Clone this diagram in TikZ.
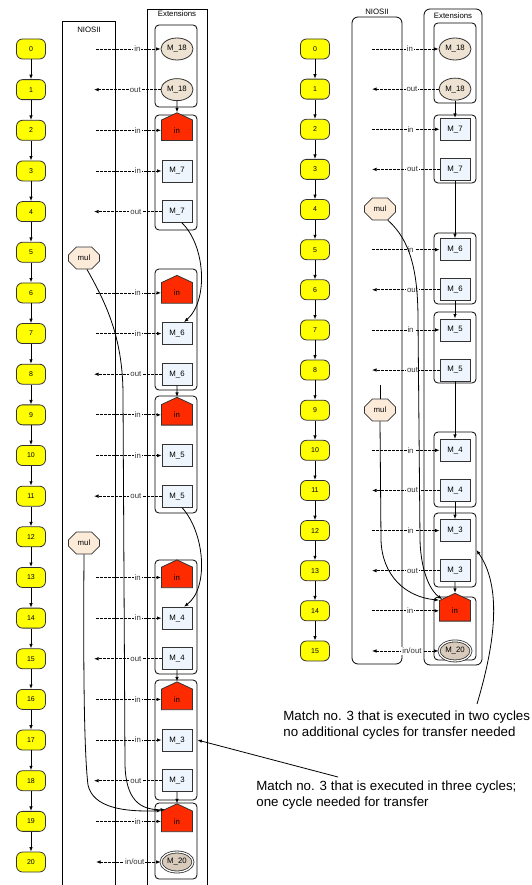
\documentclass[tikz,border=0pt]{standalone}
\usepackage{fontspec}
\setmainfont{Liberation Sans}
\usetikzlibrary{arrows.meta,shapes.geometric,shapes.symbols,shapes.misc,fit}

\definecolor{lineGrey}{HTML}{333333}
\definecolor{cycleFill}{HTML}{FFFF00}
\definecolor{houseFill}{HTML}{FF2B00}
\definecolor{memFill}{HTML}{EEE2D2}
\definecolor{resFill}{HTML}{D8CBBC}
\definecolor{regFill}{HTML}{EEF5FC}
\definecolor{mulFill}{HTML}{FDEBDA}

\newcommand\lblfont{\fontsize{7.8}{9}\selectfont}
\newcommand\numfont{\fontsize{7}{8}\selectfont}

\begin{document}
\begin{tikzpicture}[x=1pt, y=-1pt, line width=0.8pt,
    cycnode/.style={draw=lineGrey, fill=cycleFill, rounded corners=6pt,
        minimum width=29pt, minimum height=20pt, inner sep=0pt, font=\numfont},
    memell/.style={ellipse, draw=lineGrey, fill=memFill, minimum width=32pt,
        minimum height=22pt, inner sep=0pt, font=\lblfont},
    resell/.style={ellipse, draw=lineGrey, double=white, double distance=1.2pt,
        fill=resFill, minimum width=32pt, minimum height=20pt, inner sep=0pt, font=\lblfont},
    regbox/.style={draw=lineGrey, fill=regFill, minimum width=30pt,
        minimum height=22pt, inner sep=0pt, font=\lblfont},
    housenode/.style={signal, signal to=north, signal pointer angle=130,
        draw=lineGrey, fill=houseFill, minimum width=31pt, minimum height=22pt,
        inner sep=0pt, font=\lblfont},
    mulnode/.style={chamfered rectangle, chamfered rectangle xsep=5pt,
        chamfered rectangle ysep=5pt, draw=lineGrey, fill=mulFill,
        minimum width=31pt, minimum height=22pt, inner sep=0pt, font=\lblfont},
    grpbox/.style={draw, rounded corners=4pt, inner sep=0pt},
    lbl/.style={font=\lblfont, fill=white, inner sep=1pt, text=lineGrey},
    arr/.style={-{Latex[length=4.5pt,width=3.5pt]}},
    flow/.style={dash pattern=on 2.5pt off 1.5pt},
    note/.style={font=\fontsize{13.3}{16}\selectfont, align=left, inner sep=0pt, anchor=north west}]

    \useasboundingbox (0,0) rectangle (531,885);

    % ---------------- left: three cycles ----------------
    \draw (62,885) -- (62,21) -- (115,21) -- (115,885);
    \draw (147,885) -- (147,9) -- (207,9) -- (207,885);
    \node[font=\lblfont] (Lnios) at (89,30) {NIOSII};
    \node[font=\lblfont] (Lext) at (177,14) {Extensions};

    % cycles
    \foreach \i in {0,...,20}
        \node[cycnode] (Lc\i) at (31,{49+40.65*\i}) {\i};
    \foreach \i [count=\j] in {0,...,19}
        \draw[arr] (Lc\i) -- (Lc\j);

    % groups
    \foreach \t/\b [count=\k] in {25/107, 115/230, 269/390, 396/513, 560/674, 680/800, 803/879}
        \node[grpbox, fit={(155,\t) (197,\b)}] (Lg\k) {};

    % extension nodes
    \foreach \i/\s/\t in {0/memell/M\_18, 1/memell/M\_18, 2/housenode/in, 3/regbox/M\_7,
        4/regbox/M\_7, 6/housenode/in, 7/regbox/M\_6, 8/regbox/M\_6, 9/housenode/in,
        10/regbox/M\_5, 11/regbox/M\_5, 13/housenode/in, 14/regbox/M\_4, 15/regbox/M\_4,
        16/housenode/in, 17/regbox/M\_3, 18/regbox/M\_3, 19/housenode/in, 20/resell/M\_20}
        \node[\s] (Lx\i) at (177,{49+40.65*\i}) {\t};

    % transfers
    \foreach \i in {0,2,3,6,7,9,10,13,14,16,17,19} {
        \coordinate (Lin\i) at (96,{49+40.65*\i});
        \draw[flow,arr] (Lin\i) -- node[lbl,pos=.64] {in} (Lin\i -| Lx\i.west);
    }
    \foreach \i in {1,4,8,11,15,18} {
        \coordinate (Lout\i) at (94,{49+40.65*\i});
        \draw[flow,arr] (Lx\i.west) -- node[lbl,pos=.38] {out} (Lout\i);
    }
    \coordinate (Lio) at (96,{49+40.65*20});
    \draw[flow,{Latex[length=4.5pt,width=3.5pt]}-{Latex[length=4.5pt,width=3.5pt]}]
        (Lio) -- node[lbl,pos=.6] {in/out} (Lio -| Lx20.west);

    % dependencies
    \draw[arr] (Lx1) -- (Lx2);
    \draw[arr] (Lx8) -- (Lx9);
    \draw[arr] (Lx15) -- (Lx16);
    \draw[arr] (Lx18) -- (Lx19);
    \draw[arr] ([xshift=5pt]Lx4.south) .. controls (205,245) and (209,300) .. ([xshift=7pt]Lx7.north);
    \draw[arr] ([xshift=5pt]Lx11.south) .. controls (205,533) and (209,588) .. ([xshift=7pt]Lx14.north);

    % multiplications
    \node[mulnode] (Lmul1) at (84,258) {mul};
    \node[mulnode] (Lmul2) at (84,543) {mul};
    \draw[arr] ([xshift=3pt]Lmul1.south) .. controls (104,300) and (123,335) .. (123,395)
        -- (125,765) .. controls (126,800) and (140,810) .. ([xshift=4pt,yshift=1pt]Lx19.north west);
    \draw[arr] (Lmul2.south) .. controls (83,700) and (85,760) .. (88,785)
        .. controls (93,808) and (125,812) .. (Lx19.north west);

    % ---------------- right: two cycles ----------------
    \draw[rounded corners=6pt] (352,17) rectangle (402,664);
    \draw[rounded corners=6pt] (424,9) rectangle (482,665);
    \node[font=\lblfont] (Rnios) at (377,12) {NIOSII};
    \node[font=\lblfont] (Rext) at (453,16) {Extensions};

    \foreach \i in {0,...,15}
        \node[cycnode] (Rc\i) at (315,{49+40.13*\i}) {\i};
    \foreach \i [count=\j] in {0,...,14}
        \draw[arr] (Rc\i) -- (Rc\j);

    \foreach \t/\b [count=\k] in {23/103, 115/183, 233/304, 312/383, 432/507, 513/587, 597/660}
        \node[grpbox, fit={(434,\t) (476,\b)}] (Rg\k) {};

    \foreach \i/\s/\t in {0/memell/M\_18, 1/memell/M\_18, 2/regbox/M\_7, 3/regbox/M\_7,
        5/regbox/M\_6, 6/regbox/M\_6, 7/regbox/M\_5, 8/regbox/M\_5, 10/regbox/M\_4,
        11/regbox/M\_4, 12/regbox/M\_3, 13/regbox/M\_3, 14/housenode/in, 15/resell/M\_20}
        \node[\s] (Rx\i) at (455,{49+40.13*\i}) {\t};

    \foreach \i in {0,2,5,7,10,12,14} {
        \coordinate (Rin\i) at (372,{49+40.13*\i});
        \draw[flow,arr] (Rin\i) -- node[lbl,pos=.57] {in} (Rin\i -| Rx\i.west);
    }
    \foreach \i in {1,3,6,8,11,13} {
        \coordinate (Rout\i) at (372,{49+40.13*\i});
        \draw[flow,arr] (Rx\i.west) -- node[lbl,pos=.4] {out} (Rout\i);
    }
    \coordinate (Rio) at (372,{49+40.13*15});
    \draw[flow,{Latex[length=4.5pt,width=3.5pt]}-{Latex[length=4.5pt,width=3.5pt]}]
        (Rio) -- node[lbl,pos=.6] {in/out} (Rio -| Rx15.west);

    \draw[arr] (Rx1) -- (Rx2);
    \draw[arr] (Rx3) -- (Rx5);
    \draw[arr] (Rx6) -- (Rx7);
    \draw[arr] (Rx8) -- (Rx10);
    \draw[arr] (Rx11) -- (Rx12);
    \draw[arr] (Rx13) -- (Rx14);

    \node[mulnode] (Rmul1) at (380,209) {mul};
    \node[mulnode] (Rmul2) at (380,410) {mul};
    \coordinate (Rmul2top) at (380,385);
    \draw (Rmul2top) -- (Rmul2.north);
    \draw[arr] (Rmul1.-55) .. controls (410,240) and (418,270) .. (418,320)
        -- (420,540) .. controls (421,575) and (432,592) .. ([xshift=3pt,yshift=1pt]Rx14.north west);
    \draw[arr] (Rmul2.south) -- (381,540) .. controls (382,575) and (405,597) .. (Rx14.north west);

    % ---------------- notes ----------------
    \node[note] (noteR) at (283,710) {Match no. 3 that is executed in two cycles\\no additional cycles for transfer needed};
    \node[note] (noteL) at (256,780) {Match no. 3 that is executed in three cycles;\\one cycle needed for transfer};
    \coordinate (noteRfrom) at (477,704);
    \coordinate (noteLfrom) at (338,777);
    \draw[arr] (noteRfrom) .. controls (490,660) and (506,592) .. (Rg6.east);
    \draw[arr] (noteLfrom) -- (Lg6.east);
\end{tikzpicture}
\end{document}
